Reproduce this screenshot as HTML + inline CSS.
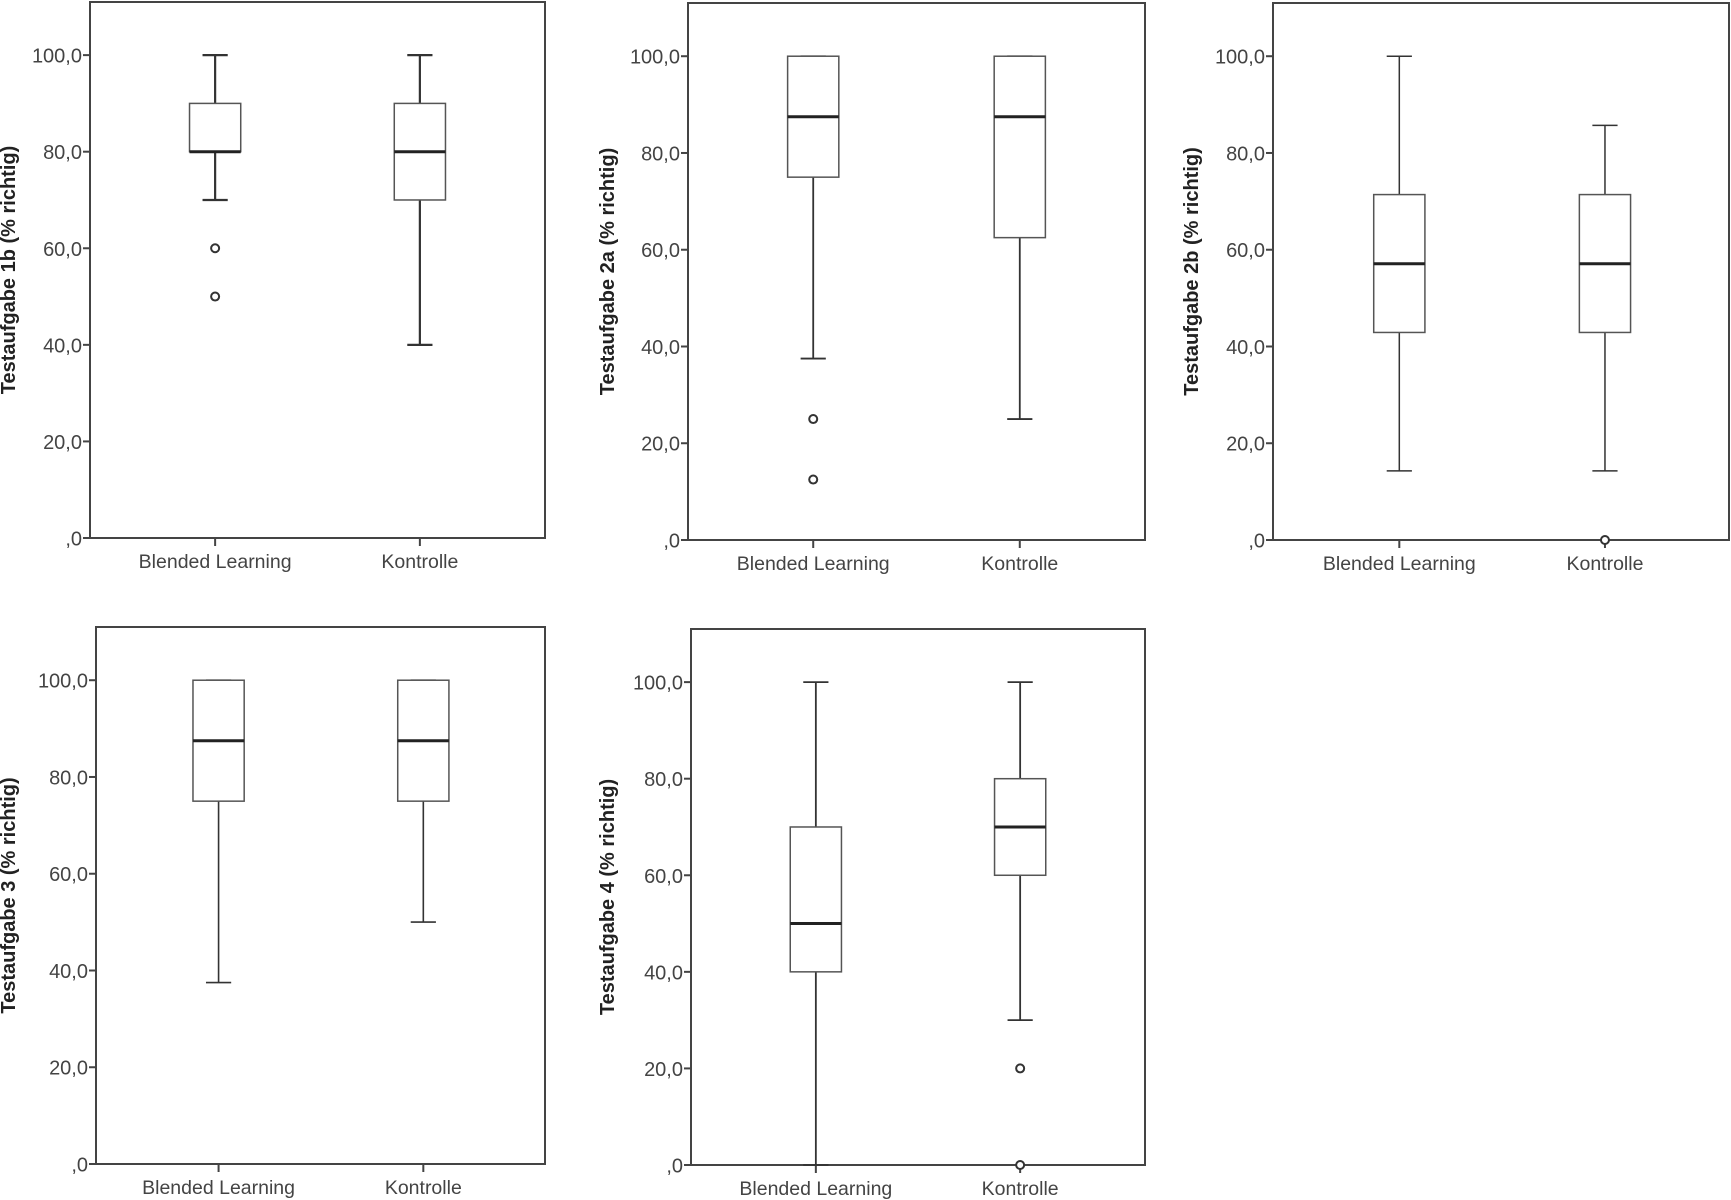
<!DOCTYPE html>
<html><head><meta charset="utf-8"><style>
html,body{margin:0;padding:0;background:#fff;}
svg{display:block;font-family:"Liberation Sans",Arial,sans-serif;}
</style></head><body>
<svg id="c" width="1731" height="1200" viewBox="0 0 1731 1200"></svg>
<script>
const categories = ["Blended Learning", "Kontrolle"];
const yTicks = [0, 20, 40, 60, 80, 100];
const yTickLabels = [",0", "20,0", "40,0", "60,0", "80,0", "100,0"];
const titles = ["Testaufgabe 1b (% richtig)", "Testaufgabe 2a (% richtig)", "Testaufgabe 2b (% richtig)", "Testaufgabe 3 (% richtig)", "Testaufgabe 4 (% richtig)"];
// [min, q1, median, q3, max] per group
const stats1b = [[70, 80, 80, 90, 100], [40, 70, 80, 90, 100]];
const stats2a = [[37.5, 75, 87.5, 100, 100], [25, 62.5, 87.5, 100, 100]];
const stats2b = [[14.3, 42.9, 57.1, 71.4, 100], [14.3, 42.9, 57.1, 71.4, 85.7]];
const stats3 = [[37.5, 75, 87.5, 100, 100], [50, 75, 87.5, 100, 100]];
const stats4 = [[0, 40, 50, 70, 100], [30, 60, 70, 80, 100]];
const outliers1b = [[60, 50], []];
const outliers2a = [[25, 12.5], []];
const outliers2b = [[], [0]];
const outliers3 = [[], []];
const outliers4 = [[], [20, 0]];

const panels = [
  {x0:90, x1:545, y0:2, y1:538, stats:stats1b, out:outliers1b, sw:2.2, f:[0.275,0.725], tx:15},
  {x0:688, x1:1145, y0:3, y1:540, stats:stats2a, out:outliers2a, sw:1.8, f:[0.274,0.726], tx:614},
  {x0:1273, x1:1729, y0:3, y1:540, stats:stats2b, out:outliers2b, sw:1.5, f:[0.277,0.728], tx:1198},
  {x0:96, x1:545, y0:627, y1:1164, stats:stats3, out:outliers3, sw:1.6, f:[0.273,0.729], tx:15},
  {x0:691, x1:1145, y0:629, y1:1165, stats:stats4, out:outliers4, sw:1.8, f:[0.275,0.725], tx:614}
];
const NS = "http://www.w3.org/2000/svg";
const svg = document.getElementById('c');
function mk(tag, attrs, parent){const e=document.createElementNS(NS,tag);for(const k in attrs)e.setAttribute(k,attrs[k]);(parent||svg).appendChild(e);return e;}

panels.forEach((p, pi) => {
  const g = mk('g', {});
  
  
  const yMax = 111;
  const y = v => p.y1 - (v / yMax) * (p.y1 - p.y0);
  const w = p.x1 - p.x0;
  const xc = i => p.x0 + w * p.f[i];
  const frame = mk('rect', {x:p.x0, y:p.y0, width:w, height:p.y1-p.y0, fill:'none', stroke:'#444', 'stroke-width':2}, g);
  
  
  yTicks.forEach((t, ti) => {
    mk('line', {x1:p.x0-7, x2:p.x0, y1:y(t), y2:y(t), stroke:'#444', 'stroke-width':2}, g);
    const tl = mk('text', {x:p.x0-8, y:y(t)+7.5, 'text-anchor':'end', 'font-size':20, fill:'#444'}, g);
    tl.textContent = yTickLabels[ti];
    
    
  });
  const cy = (p.y0 + p.y1) / 2;
  const tt = mk('text', {x:0, y:0, transform:`translate(${p.tx},${cy}) rotate(-90)`, 'text-anchor':'middle', 'font-size':20, 'font-weight':'bold', fill:'#222'}, g);
  tt.textContent = titles[pi];
  
  
  categories.forEach((c, ci) => {
    const x = xc(ci);
    mk('line', {x1:x, x2:x, y1:p.y1, y2:p.y1+8, stroke:'#444', 'stroke-width':2}, g);
    const cl = mk('text', {x:x, y:p.y1+30, 'text-anchor':'middle', 'font-size':19.5, fill:'#444'}, g);
    cl.textContent = c;
    
    
    const s = p.stats[ci];
    const bg = mk('g', {stroke:'#333', 'stroke-width':p.sw, fill:'none'}, g);
    
    
    const bw = 25.6, cw = 12.6;
    mk('line', {x1:x, x2:x, y1:y(s[0]), y2:y(s[1])}, bg);
    mk('line', {x1:x, x2:x, y1:y(s[3]), y2:y(s[4])}, bg);
    mk('line', {x1:x-cw, x2:x+cw, y1:y(s[0]), y2:y(s[0])}, bg);
    mk('line', {x1:x-cw, x2:x+cw, y1:y(s[4]), y2:y(s[4])}, bg);
    mk('rect', {x:x-bw, y:y(s[3]), width:2*bw, height:y(s[1])-y(s[3]), fill:'#fff', stroke:'#555', 'stroke-width':1.5}, bg);
    mk('line', {x1:x-bw, x2:x+bw, y1:y(s[2]), y2:y(s[2]), 'stroke-width':3, stroke:'#222'}, bg);
    p.out[ci].forEach(o => {
      const oc = mk('circle', {cx:x, cy:y(o), r:4, fill:'#fff', stroke:'#333', 'stroke-width':2}, g);
      
      
    });
  });
});
</script>
</body></html>
